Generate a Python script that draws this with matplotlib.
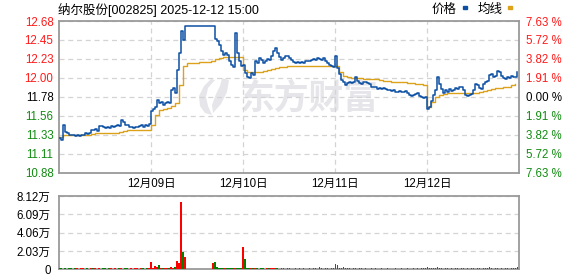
import numpy as np
import matplotlib.pyplot as plt
from matplotlib.patches import Rectangle, Polygon

plt.rcParams['font.family'] = ['Liberation Sans', 'Noto Sans CJK SC', 'DejaVu Sans']

# chart texts
title = '纳尔股份[002825] 2025-12-12 15:00'
day_labels = ['12月09日', '12月10日', '12月11日', '12月12日']
prev_close = 11.78
price_top = 12.68
price_bottom = 10.88
price_ticks = ['12.68', '12.45', '12.23', '12.00', '11.78', '11.56', '11.33', '11.11', '10.88']
pct_ticks = ['7.63 %', '5.72 %', '3.82 %', '1.91 %', '0.00 %', '1.91 %', '3.82 %', '5.72 %', '7.63 %']
vol_ticks = [0, 20300, 40600, 60900, 81200]
vol_labels = ['0', '2.03万', '4.06万', '6.09万', '8.12万']

# price, 46 samples per day
price_d1 = [11.29, 11.27, 11.44, 11.36, 11.35, 11.33, 11.32, 11.33, 11.31, 11.32,
            11.31, 11.32, 11.33, 11.35, 11.34, 11.35, 11.39, 11.38, 11.40, 11.37,
            11.43, 11.43, 11.42, 11.41, 11.42, 11.41, 11.43, 11.42, 11.43, 11.44,
            11.43, 11.50, 11.48, 11.45, 11.44, 11.42, 11.42, 11.41, 11.42, 11.42,
            11.43, 11.44, 11.42, 11.44, 11.43, 11.46]
price_d2 = [11.61, 11.64, 11.66, 11.74, 11.70, 11.72, 11.68, 11.71, 11.72, 11.70,
            11.86, 11.88, 11.83, 12.10, 12.30, 12.56, 12.45, 12.62, 12.62, 12.62,
            12.62, 12.62, 12.62, 12.62, 12.62, 12.62, 12.62, 12.62, 12.62, 12.62,
            12.62, 12.62, 12.47, 12.44, 12.39, 12.32, 12.28, 12.30, 12.28, 12.20,
            12.16, 12.13, 12.54, 12.30, 12.20, 12.14]
price_d3 = [12.16, 12.06, 12.02, 12.00, 12.06, 12.04, 12.20, 12.18, 12.24, 12.22,
            12.18, 12.21, 12.23, 12.22, 12.26, 12.32, 12.36, 12.30, 12.25, 12.22,
            12.24, 12.26, 12.27, 12.24, 12.22, 12.19, 12.18, 12.19, 12.18, 12.19,
            12.18, 12.20, 12.21, 12.20, 12.22, 12.23, 12.22, 12.24, 12.23, 12.22,
            12.24, 12.20, 12.18, 12.16, 12.14, 12.13]
price_d4 = [12.26, 12.12, 12.05, 11.98, 11.95, 11.92, 11.94, 11.95, 11.94, 11.95,
            12.01, 11.97, 11.94, 11.93, 11.96, 11.96, 11.94, 11.93, 11.90, 11.89,
            11.90, 11.87, 11.88, 11.87, 11.88, 11.87, 11.86, 11.86, 11.85, 11.86,
            11.84, 11.84, 11.85, 11.84, 11.84, 11.85, 11.82, 11.80, 11.79, 11.80,
            11.81, 11.83, 11.79, 11.78, 11.77, 11.78]
price_d5 = [11.63, 11.66, 11.73, 11.80, 11.86, 12.02, 11.93, 11.87, 11.83, 11.86,
            11.84, 11.87, 11.85, 11.86, 11.88, 11.87, 11.89, 11.90, 11.86, 11.80,
            11.79, 11.80, 11.81, 11.86, 11.93, 11.92, 11.88, 11.87, 11.93, 11.96,
            11.97, 12.04, 12.05, 12.01, 12.03, 12.09, 12.07, 12.03, 12.00, 11.99,
            12.01, 12.00, 12.03, 12.01, 12.02, 12.07]

# average line, 23 samples per day
avg_d1 = [11.30, 11.32, 11.33, 11.33, 11.33, 11.33, 11.33, 11.33, 11.34, 11.345,
          11.35, 11.35, 11.35, 11.35, 11.355, 11.36, 11.375, 11.38, 11.385, 11.385,
          11.385, 11.39, 11.39]
avg_d2 = [11.45, 11.56, 11.62, 11.64, 11.65, 11.67, 11.70, 11.92, 12.15, 12.18,
          12.18, 12.185, 12.19, 12.19, 12.195, 12.21, 12.225, 12.24, 12.25, 12.25,
          12.25, 12.25, 12.25]
avg_d3 = [12.10, 12.07, 12.07, 12.07, 12.08, 12.09, 12.10, 12.11, 12.12, 12.13,
          12.135, 12.14, 12.14, 12.145, 12.145, 12.145, 12.145, 12.145, 12.145, 12.145,
          12.145, 12.145, 12.145]
avg_d4 = [12.14, 12.07, 12.03, 12.01, 12.00, 12.00, 12.00, 11.99, 11.99, 11.99,
          11.985, 11.975, 11.97, 11.965, 11.96, 11.96, 11.95, 11.95, 11.945, 11.94,
          11.935, 11.93, 11.925]
avg_d5 = [11.655, 11.72, 11.78, 11.805, 11.81, 11.82, 11.82, 11.82, 11.82, 11.82,
          11.825, 11.825, 11.83, 11.84, 11.845, 11.86, 11.87, 11.88, 11.885, 11.89,
          11.90, 11.915, 11.93]

# volume (shares), 46 samples per day
vol_d1 = [900, 1100, 800, 1000, 700, 900, 1200, 800, 1000, 900,
          800, 1100, 900, 700, 1000, 800, 1200, 900, 1000, 800,
          900, 700, 1000, 900, 800, 1100, 900, 800, 1000, 700,
          900, 1300, 800, 1000, 900, 800, 1000, 700, 900, 1100,
          800, 900, 1000, 800, 900, 1200]
vol_d2 = [7700, 1500, 4000, 3000, 5000, 1200, 1000, 900, 1100, 1000,
          2000, 1500, 3000, 9500, 7500, 74900, 19500, 14000, 800, 700,
          600, 700, 800, 600, 700, 600, 800, 700, 600, 700,
          800, 7000, 8000, 2000, 1200, 1000, 1300, 900, 1800, 1000,
          1100, 900, 1500, 1000, 900, 1200]
vol_d3 = [25000, 11400, 1500, 1200, 1000, 900, 1100, 1000, 800, 900,
          1000, 800, 900, 1000, 900, 1100, 1200, 900, 800, 1000,
          900, 800, 1000, 900, 800, 700, 900, 800, 1000, 800,
          900, 700, 800, 900, 800, 1000, 900, 800, 2000, 900,
          800, 1000, 900, 800, 1000, 900]
vol_d4 = [5900, 5000, 1500, 1200, 2500, 1000, 900, 1100, 800, 900,
          1000, 800, 900, 1000, 800, 900, 700, 800, 900, 800,
          1000, 700, 800, 900, 800, 700, 900, 800, 700, 800,
          900, 700, 800, 900, 700, 800, 900, 800, 700, 900,
          800, 900, 800, 1000, 900, 1100]
vol_d5 = [3000, 1500, 1200, 1000, 1100, 2500, 1000, 900, 800, 900,
          1000, 800, 900, 800, 1000, 900, 800, 900, 1000, 800,
          900, 800, 1000, 900, 800, 1000, 900, 800, 900, 1000,
          900, 2000, 900, 800, 1000, 900, 800, 900, 800, 1000,
          900, 800, 900, 1000, 900, 2000]

price_days = [price_d1, price_d2, price_d3, price_d4, price_d5]
avg_days = [avg_d1, avg_d2, avg_d3, avg_d4, avg_d5]
vol_days = [vol_d1, vol_d2, vol_d3, vol_d4, vol_d5]

px, py, ax_, ay, vx, vy = [], [], [], [], [], []
for d in range(5):
    n = len(price_days[d])
    px += list(d + np.arange(n) / n)
    py += price_days[d]
    m = len(avg_days[d])
    ax_ += list(d + np.arange(m) / m)
    ay += avg_days[d]
    vx += list(d + np.arange(len(vol_days[d])) / len(vol_days[d]))
    vy += vol_days[d]
py = np.array(py)
diff = np.diff(py, prepend=py[0])
vol_colors = np.where(diff >= 0, '#ff0000', '#008000')

blue = '#0b4fa3'
gold = '#dca21a'
frame = '#9a9a9a'
gridc = '#d4d4d4'
red = '#ff1a1a'
green = '#118c11'

fig = plt.figure(figsize=(5.78, 2.76), dpi=100)
ax = fig.add_axes([59 / 578, 1 - 172.5 / 276, 460.3 / 578, 151.5 / 276])
axv = fig.add_axes([59 / 578, 1 - 269.3 / 276, 460.3 / 578, 73.3 / 276])

# watermark: logo + text
def pix(pts):
    return [((x - 59) / 460.3, (172.5 - y) / 151.5) for x, y in pts]

wm = '#e6e6ea'
logo_left = [(211, 79), (204, 86), (199, 96), (200, 106), (205, 113), (212, 115),
             (208, 106), (206, 97), (208, 88), (215, 80)]
logo_right = [(222, 78), (229, 80), (227, 92), (221, 104), (213, 113), (212, 105),
              (216, 94), (220, 86)]
for shape in (logo_left, logo_right):
    ax.add_patch(Polygon(pix(shape), closed=True, transform=ax.transAxes,
                         facecolor=wm, edgecolor='none', zorder=0))
ax.text(0.545, 0.49, '东方财富', transform=ax.transAxes, fontsize=25, fontweight='bold',
        color=wm, ha='center', va='center', zorder=0,
        family=['Noto Sans CJK SC'])

ax.plot(ax_, ay, color=gold, lw=1.0, zorder=3, drawstyle='steps-post')
ax.plot(px, py, color=blue, lw=1.1, zorder=4, drawstyle='steps-post')

ax.set_xlim(0, 5)
ax.set_ylim(price_bottom, price_top)
ytick_pos = np.linspace(price_top, price_bottom, len(price_ticks))
ax.set_yticks(ytick_pos)
ax.set_yticklabels(price_ticks)
for lab, val in zip(ax.get_yticklabels(), ytick_pos):
    if abs(val - prev_close) < 1e-6:
        lab.set_color('black')
    elif val > prev_close:
        lab.set_color(red)
    else:
        lab.set_color(green)
ax.set_xticks([1, 2, 3, 4])
ax.set_xticklabels(day_labels)
ax.tick_params(axis='both', length=0, labelsize=8.3)
ax.tick_params(axis='y', pad=4)
ax.tick_params(axis='x', pad=4)
ax.grid(True, axis='both', color=gridc, ls=(0, (4, 3)), lw=0.9)
for s in ax.spines.values():
    s.set_color(frame)
    s.set_linewidth(1.3)

ax2 = ax.twinx()
ax2.set_ylim(price_bottom, price_top)
ax2.set_yticks(ytick_pos)
ax2.set_yticklabels(pct_ticks)
for lab, val in zip(ax2.get_yticklabels(), ytick_pos):
    if abs(val - prev_close) < 1e-6:
        lab.set_color('black')
    elif val > prev_close:
        lab.set_color(red)
    else:
        lab.set_color(green)
ax2.tick_params(axis='y', length=0, labelsize=8.3, pad=5)
for s in ax2.spines.values():
    s.set_visible(False)

# volume
axv.bar(vx, vy, width=0.014, color=vol_colors, align='center', zorder=3)
axv.set_xlim(0, 5)
axv.set_ylim(0, vol_ticks[-1])
axv.set_yticks(vol_ticks)
axv.set_yticklabels(vol_labels)
axv.set_xticks([])
axv.tick_params(axis='y', length=0, labelsize=8.3, pad=6)
axv.grid(True, axis='y', color=gridc, ls=(0, (4, 3)), lw=0.9)
for s in axv.spines.values():
    s.set_color(frame)
    s.set_linewidth(1.3)

# title and legend
fig.text(58 / 578, 1 - 9.5 / 276, title, fontsize=9, va='center', ha='left')
fig.text(432 / 578, 1 - 10 / 276, '价格', fontsize=9, va='center', ha='left')
fig.text(478 / 578, 1 - 10 / 276, '均线', fontsize=9, va='center', ha='left')
fig.add_artist(Rectangle((462.5 / 578, 1 - 9 / 276), 4 / 578, 3 / 276,
                         transform=fig.transFigure, color=blue))
fig.add_artist(Rectangle((508 / 578, 1 - 9 / 276), 4 / 578, 3 / 276,
                         transform=fig.transFigure, color=gold))

fig.savefig('out.png', dpi=100)
